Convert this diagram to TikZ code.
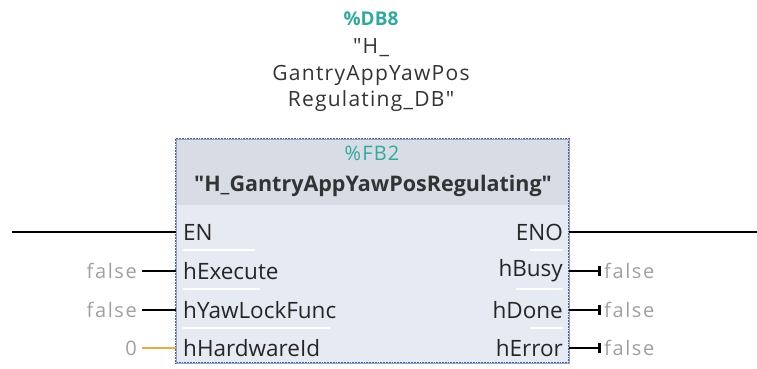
\documentclass[tikz,border=0pt]{standalone}
\usepackage{fontspec}
\setmainfont{Open Sans}[Ligatures=TeXOff]
\usetikzlibrary{arrows.meta}
\definecolor{teal}{RGB}{52,168,160}
\definecolor{frame}{RGB}{76,98,150}
\definecolor{bodyfill}{RGB}{230,234,242}
\definecolor{headfill}{RGB}{216,220,228}
\definecolor{constgray}{RGB}{160,160,160}
\definecolor{intwire}{RGB}{232,172,64}
\newcommand{\dq}{\char"22\relax}
\tikzset{
  pin/.style={font=\fontsize{22.5}{26}\selectfont, inner sep=0pt, text=black!85},
  lpin/.style={pin, anchor=west},
  rpin/.style={pin, anchor=east},
  const/.style={font=\fontsize{20}{24}\selectfont\addfontfeatures{LetterSpace=8}, inner sep=0pt, text=constgray},
  title/.style={font=\fontsize{21}{24}\selectfont\addfontfeatures{LetterSpace=6}, inner sep=0pt, text=black!80},
  wire/.style={line width=2.6pt, black},
  sep/.style={white, line width=1.2pt},
  tee/.style={-{Bar[width=10pt,line width=2.6pt]}},
}
\begin{document}
\begin{tikzpicture}[x=1pt,y=-1pt]
\useasboundingbox (0,0) rectangle (757,369);

% block body and header band
\fill[bodyfill] (176,139) rectangle (569,363);
\fill[headfill] (176,139) rectangle (569,205);
\draw[frame, line width=1.8pt, densely dotted] (176,139) rectangle (569,363);
\draw[frame!60, line width=0.6pt] (176,139) rectangle (569,363);

% instance data block
\node[font=\bfseries\fontsize{19}{22}\selectfont, text=teal, inner sep=0pt] (db) at (371,19) {\%DB8};
\node[title] (db1) at (371,48) {\dq H\_};
\node[title] (db2) at (371,75) {GantryAppYawPos};
\node[title] (db3) at (371,101) {Regulating\_DB\dq};

% function block header
\node[font=\fontsize{20}{22}\selectfont\addfontfeatures{LetterSpace=6}, text=teal, inner sep=0pt] (fb) at (372,153) {\%FB2};
\node[font=\bfseries\fontsize{21.5}{24}\selectfont, inner sep=0pt, text=black!80] (fbname) at (373,186) {\dq H\_GantryAppYawPosRegulating\dq};

% pin anchors on the block edges
\coordinate (inEN) at (176,232);
\coordinate (inExec) at (176,271);
\coordinate (inYaw) at (176,310);
\coordinate (inHw) at (176,348);
\coordinate (outENO) at (569,232);
\coordinate (outBusy) at (569,271);
\coordinate (outDone) at (569,310);
\coordinate (outErr) at (569,348);

% input pins
\node[lpin] (en) at (183,232) {EN};
\node[lpin] (hexec) at (183,271) {hExecute};
\node[lpin] (hyaw) at (183,310) {hYawLockFunc};
\node[lpin] (hhw) at (183,348) {hHardwareId};

% output pins
\node[rpin] (eno) at (563,232) {ENO};
\node[rpin] (hbusy) at (563,271) {hBusy};
\node[rpin] (hdone) at (563,310) {hDone};
\node[rpin] (herr) at (563,348) {hError};

% row separators
\draw[sep] (183,250) -- (255,250);
\draw[sep] (183,289) -- (260,289);
\draw[sep] (183,328) -- (330,328);
\draw[sep] (530,250) -- (563,250);
\draw[sep] (516,289) -- (563,289);
\draw[sep] (530,328) -- (563,328);

% enable rails
\coordinate (railL) at (12,232);
\coordinate (railR) at (757,232);
\draw[wire] (railL) -- (inEN);
\draw[wire] (outENO) -- (railR);

% actual parameters on inputs
\node[const, anchor=east] (cExec) at (137,271) {false};
\node[const, anchor=east] (cYaw) at (137,310) {false};
\node[const, anchor=east] (cHw) at (137,348) {0};
\draw[wire] (cExec.east) ++(5,0) -- (inExec);
\draw[wire] (cYaw.east) ++(5,0) -- (inYaw);
\draw[intwire, line width=2.6pt] (cHw.east) ++(5,0) -- (inHw);

% actual parameters on outputs
\node[const, anchor=west] (cBusy) at (604,271) {false};
\node[const, anchor=west] (cDone) at (604,310) {false};
\node[const, anchor=west] (cErr) at (604,348) {false};
\draw[wire, tee] (outBusy) -- ([xshift=-3pt]cBusy.west);
\draw[wire, tee] (outDone) -- ([xshift=-3pt]cDone.west);
\draw[wire, tee] (outErr) -- ([xshift=-3pt]cErr.west);
\end{tikzpicture}
\end{document}
